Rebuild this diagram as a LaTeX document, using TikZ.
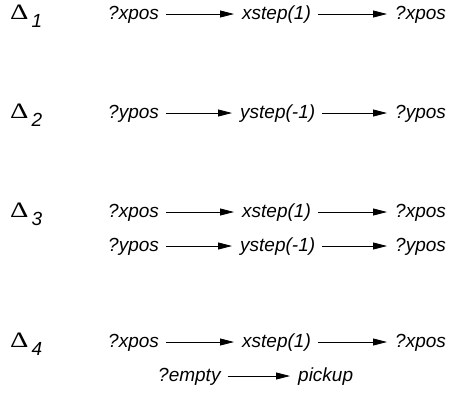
\documentclass[tikz,border=0pt]{standalone}
\usepackage{fontspec}
\setmainfont{Liberation Sans}
\newfontfamily\greekfont{Liberation Serif}
\usetikzlibrary{arrows.meta}

\tikzset{
  term/.style={anchor=west, inner sep=0pt, text height=14pt, text depth=4pt, font=\fontsize{19}{22}\selectfont\itshape},
  delta/.style={anchor=west, inner sep=0pt, text height=14pt, text depth=4pt, font=\fontsize{19}{22}\selectfont},
  rule/.style={-{Triangle[length=14pt,width=7pt]}, line width=0.8pt, shorten <=7pt, shorten >=8pt}
}
\newcommand{\dlabel}[1]{\scalebox{1.3}[1]{\greekfont\fontsize{22}{24}\selectfont Δ}\kern3pt\raisebox{-8pt}{\itshape #1}}

\begin{document}
\begin{tikzpicture}[x=1pt,y=-1pt]
    \useasboundingbox (0,0) rectangle (456,392);
    % first rule
    \node[delta] (d1) at (10,14) {\dlabel{1}};
    \node[term] (xa1) at (108,14) {?xpos};
    \node[term] (xs1) at (242,14) {xstep(1)};
    \node[term] (xb1) at (395,14) {?xpos};
    \draw[rule] (xa1) -- (xs1);
    \draw[rule] (xs1) -- (xb1);
    % second rule
    \node[delta] (d2) at (10,113) {\dlabel{2}};
    \node[term] (ya2) at (108,113) {?ypos};
    \node[term] (ys2) at (240,113) {ystep(-1)};
    \node[term] (yb2) at (395,113) {?ypos};
    \draw[rule] (ya2) -- (ys2);
    \draw[rule] (ys2) -- (yb2);
    % third rule, two lines
    \node[delta] (d3) at (10,212) {\dlabel{3}};
    \node[term] (xa3) at (108,212) {?xpos};
    \node[term] (xs3) at (242,212) {xstep(1)};
    \node[term] (xb3) at (395,212) {?xpos};
    \draw[rule] (xa3) -- (xs3);
    \draw[rule] (xs3) -- (xb3);
    \node[term] (ya3) at (108,246) {?ypos};
    \node[term] (ys3) at (240,246) {ystep(-1)};
    \node[term] (yb3) at (395,246) {?ypos};
    \draw[rule] (ya3) -- (ys3);
    \draw[rule] (ys3) -- (yb3);
    % fourth rule
    \node[delta] (d4) at (10,342) {\dlabel{4}};
    \node[term] (xa4) at (108,342) {?xpos};
    \node[term] (xs4) at (242,342) {xstep(1)};
    \node[term] (xb4) at (395,342) {?xpos};
    \draw[rule] (xa4) -- (xs4);
    \draw[rule] (xs4) -- (xb4);
    \node[term] (e4) at (158,376) {?empty};
    \node[term] (p4) at (298,376) {pickup};
    \draw[rule] (e4) -- (p4); % pick it up
\end{tikzpicture}
\end{document}
